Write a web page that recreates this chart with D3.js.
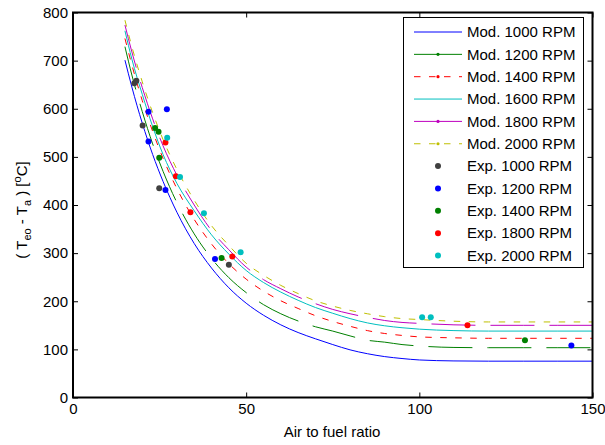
<!DOCTYPE html>
<html>
<head>
<meta charset="utf-8">
<script src="https://cdn.jsdelivr.net/npm/d3@7"></script>
<style>
  body { margin: 0; background: #fff; }
  text { font-family: "Liberation Sans", Arial, sans-serif; fill: #000; }
</style>
</head>
<body>
<div id="chart"></div>
<script>
// model curves, air to fuel ratio grid + temperature rise per speed
const afr = [15, 17, 20, 23, 26, 30, 35, 40, 45, 50, 55, 60, 65, 70, 75, 80, 85, 90, 95, 100, 110, 120, 130, 140, 150];
const mod1000 = [701, 645, 570, 505, 449, 385, 320, 269, 228, 196, 171, 151, 135, 122, 110, 99, 91, 85, 81, 78, 76, 75.5, 75.5, 75.5, 75.5];
const mod1200 = [729, 670, 594, 527, 470, 405, 340, 289, 249, 218, 193, 174, 159, 147, 138, 128, 119, 115, 110, 107, 104, 103.5, 103.5, 103.5, 103.5];
const mod1400 = [746, 691, 617, 553, 497, 434, 370, 319, 278, 246, 221, 201, 185, 170, 158, 148, 139, 133, 129, 126, 124, 123, 123, 123, 123];
const mod1600 = [762, 703, 630, 563, 505, 445, 388, 338, 298, 264, 239, 219, 202, 187, 175, 164, 155, 149, 145, 142, 139, 138, 138, 138, 138];
const mod1800 = [774, 718, 644, 579, 523, 462, 400, 347, 307, 271, 245, 226, 209, 195, 183, 174, 166.5, 160, 156, 154, 151, 150, 150, 150, 150];
const mod2000 = [784, 729, 656, 592, 536, 474, 410, 357, 316, 279, 254, 233, 216, 201, 190, 181, 174, 168, 164, 162, 158.5, 157, 157, 157, 157];

// experimental points [afr, temp]
const exp1000 = [[17.7, 653], [18.3, 658], [20.1, 565], [24.9, 435], [45, 276]];
const exp1200 = [[21.8, 594], [27.1, 599], [21.8, 532], [26.7, 431], [41, 288], [143.9, 108]];
const exp1400 = [[23.7, 560], [24.7, 552], [24.9, 498], [42.9, 290], [130.5, 119]];
const exp1800 = [[26.7, 530], [29.7, 460], [33.9, 385], [46, 293], [113.9, 150]];
const exp2000 = [[27.2, 540], [30.9, 458], [37.8, 383], [48.4, 302], [100.8, 167], [103.3, 167]];

const xTicks = [0, 50, 100, 150];
const yTicks = [0, 100, 200, 300, 400, 500, 600, 700, 800];

const width = 605;
const height = 445;

const svg = d3.select("#chart")
  .append("svg")
  .attr("width", width)
  .attr("height", height);

svg.append("rect")
  .attr("width", width)
  .attr("height", height)
  .attr("fill", "#fff");

const x = d3.scaleLinear().domain([0, 150]).range([73, 592.5]);
const y = d3.scaleLinear().domain([0, 800]).range([397.5, 12.5]);

// model lines
const models = [
  { name: "Mod. 1000 RPM", values: mod1000, color: "#0000ff", dash: null, dot: false },
  { name: "Mod. 1200 RPM", values: mod1200, color: "#008000", dash: "44,15", dot: true },
  { name: "Mod. 1400 RPM", values: mod1400, color: "#ff0000", dash: "6.5,8.5", dot: true },
  { name: "Mod. 1600 RPM", values: mod1600, color: "#00bfbf", dash: null, dot: false },
  { name: "Mod. 1800 RPM", values: mod1800, color: "#bf00bf", dash: "44,15", dot: true },
  { name: "Mod. 2000 RPM", values: mod2000, color: "#bfbf00", dash: "6.5,8.5", dot: true }
];

const exps = [
  { name: "Exp. 1000 RPM", values: exp1000, color: "#404040" },
  { name: "Exp. 1200 RPM", values: exp1200, color: "#0000ff" },
  { name: "Exp. 1400 RPM", values: exp1400, color: "#008000" },
  { name: "Exp. 1800 RPM", values: exp1800, color: "#ff0000" },
  { name: "Exp. 2000 RPM", values: exp2000, color: "#00bfbf" }
];

const line = d3.line()
  .x((d, i) => x(afr[i]))
  .y(d => y(d))
  .curve(d3.curveMonotoneX);

models.forEach(m => {
  svg.append("path")
    .datum(m.values)
    .attr("d", line)
    .attr("fill", "none")
    .attr("stroke", m.color)
    .attr("stroke-width", 1)
    .attr("stroke-dasharray", m.dash);
});

exps.forEach(e => {
  svg.append("g")
    .selectAll("circle")
    .data(e.values)
    .enter()
    .append("circle")
    .attr("cx", d => x(d[0]))
    .attr("cy", d => y(d[1]))
    .attr("r", 3)
    .attr("fill", e.color);
});

// axes, ticks pointing inward like matlab
const xAxis = svg.append("g")
  .attr("transform", `translate(0,${y(0)})`)
  .call(d3.axisBottom(x).tickValues(xTicks).tickSize(-5).tickPadding(6));
const yAxis = svg.append("g")
  .attr("transform", `translate(${x(0)},0)`)
  .call(d3.axisLeft(y).tickValues(yTicks).tickSize(-5).tickPadding(5));
svg.append("g")
  .attr("transform", `translate(0,${y(800)})`)
  .call(d3.axisTop(x).tickValues(xTicks).tickSize(-5).tickFormat(""));
svg.append("g")
  .attr("transform", `translate(${x(150)},0)`)
  .call(d3.axisRight(y).tickValues(yTicks).tickSize(-5).tickFormat(""));

svg.selectAll(".domain").remove();
svg.selectAll(".tick line").attr("stroke", "#000");
svg.selectAll(".tick text")
  .style("font-family", "'Liberation Sans', Arial, sans-serif")
  .style("font-size", "15px")
  .attr("fill", "#000");

svg.append("rect")
  .attr("x", x(0))
  .attr("y", y(800))
  .attr("width", x(150) - x(0))
  .attr("height", y(0) - y(800))
  .attr("fill", "none")
  .attr("stroke", "#000")
  .attr("stroke-width", 2);

// axis labels
svg.append("text")
  .attr("x", 332)
  .attr("y", 437)
  .attr("text-anchor", "middle")
  .style("font-size", "15px")
  .text("Air to fuel ratio");

const yLab = svg.append("text")
  .attr("transform", "translate(27,210) rotate(-90)")
  .attr("text-anchor", "middle")
  .style("font-size", "15px");
yLab.append("tspan").text("( T");
yLab.append("tspan").text("eo").style("font-size", "11px").attr("dy", 4);
yLab.append("tspan").text(" - T").attr("dy", -4);
yLab.append("tspan").text("a").style("font-size", "11px").attr("dy", 4);
yLab.append("tspan").text(" ) [").attr("dy", -4);
yLab.append("tspan").text("o").style("font-size", "11px").attr("dy", -6);
yLab.append("tspan").text("C]").attr("dy", 6);

// legend
const legend = svg.append("g");
legend.append("rect")
  .attr("x", 403.5)
  .attr("y", 17.5)
  .attr("width", 180)
  .attr("height", 250)
  .attr("fill", "#fff")
  .attr("stroke", "#000")
  .attr("stroke-width", 1);

const rowY = i => 32 + i * 22.35;

models.forEach((m, i) => {
  legend.append("line")
    .attr("x1", 414).attr("x2", 462)
    .attr("y1", rowY(i)).attr("y2", rowY(i))
    .attr("stroke", m.color)
    .attr("stroke-width", 1)
    .attr("stroke-dasharray", m.dash ? (m.dash === "44,15" ? null : "6.5,8.5") : null);
  if (m.dot) {
    legend.append("circle")
      .attr("cx", 438).attr("cy", rowY(i)).attr("r", 1.6)
      .attr("fill", m.color);
  }
  legend.append("text")
    .attr("x", 467).attr("y", rowY(i)).attr("dy", "0.35em")
    .style("font-size", "15px")
    .text(m.name);
});

exps.forEach((e, j) => {
  const i = j + models.length;
  legend.append("circle")
    .attr("cx", 438).attr("cy", rowY(i)).attr("r", 3)
    .attr("fill", e.color);
  legend.append("text")
    .attr("x", 467).attr("y", rowY(i)).attr("dy", "0.35em")
    .style("font-size", "15px")
    .text(e.name);
});
</script>
</body>
</html>
